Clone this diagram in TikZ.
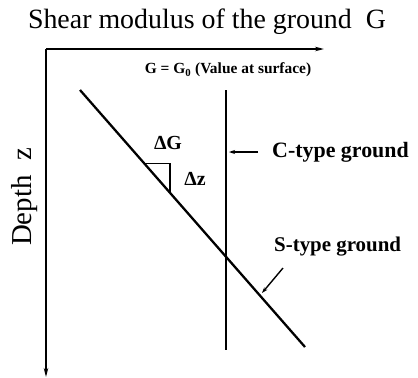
\documentclass[tikz,border=0pt]{standalone}
\usepackage{fontspec}
\setmainfont{Liberation Serif}
\usepackage{tikz}
\usetikzlibrary{calc, arrows.meta, positioning}

\tikzset{
  axisline/.style={line width=1.7pt, -{Stealth[length=9pt,width=4.5pt]}},
  profile/.style={line width=2.3pt},
  pointer/.style={line width=1.4pt, -{Stealth[length=6pt,width=4pt]}},
  lbl/.style={inner sep=1pt, font=\fontsize{20}{22}\selectfont\bfseries},
}

\begin{document}
\begin{tikzpicture}[x=1bp,y=-1bp]
  \useasboundingbox (0,0) rectangle (418,378);
  % axes
  \coordinate (origin) at (46,49);
  \coordinate (gend) at (324,49);
  \coordinate (zend) at (46,377);
  \draw[axisline] (origin)--(gend);
  \draw[axisline] (origin)--(zend);
  \node[font=\fontsize{28}{30}\selectfont] (title) at (207,22) {Shear modulus of the ground~~G};
  \node[font=\fontsize{29}{32}\selectfont, rotate=90] (depth) at (25,197) {Depth~~z};
  % C-type profile
  \coordinate (ctop) at (226,90);
  \coordinate (cbot) at (226,350);
  \draw[profile] (ctop)--(cbot);
  \node[font=\fontsize{15.5}{18}\selectfont\bfseries] (gzero) at (228,70) {G = G\textsubscript{0} (Value at surface)};
  % S-type profile
  \coordinate (stop) at (80,90);
  \coordinate (sbot) at (305,347);
  \draw[profile] (stop)--(sbot);
  \coordinate (ta) at ($(stop)!0.285!(sbot)$);
  \coordinate (tb) at ($(stop)!0.4!(sbot)$);
  \draw[line width=1.4pt] (ta) -| (tb);
  \node[lbl] (dG) at (168,143) {ΔG};
  \node[lbl] (dz) at (195,179) {Δz};
  % labels with pointers
  \node[lbl, font=\fontsize{22}{24}\selectfont\bfseries, anchor=west] (ctype) at (271,152) {C-type ground};
  \coordinate (ctail) at (258,152);
  \coordinate (chit) at (229,152);
  \draw[pointer] (ctail)--(chit);
  \node[lbl, font=\fontsize{21}{23}\selectfont\bfseries, anchor=west] (stype) at (273,247) {S-type ground};
  \coordinate (stail) at (283,268);
  \coordinate (shit) at (262,293);
  \draw[pointer] (stail)--(shit);
\end{tikzpicture}
\end{document}
